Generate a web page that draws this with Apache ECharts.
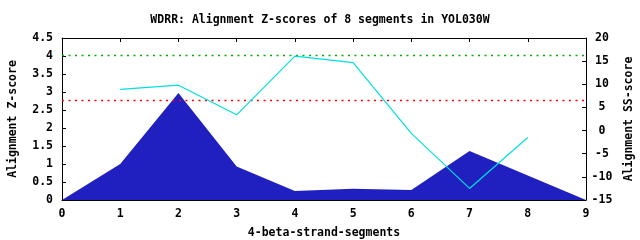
<!DOCTYPE html>
<html>
<head>
<meta charset="utf-8">
<script src="https://cdn.jsdelivr.net/npm/echarts@6/dist/echarts.min.js"></script>
<style>html,body{margin:0;padding:0;background:#fff;}#c{width:640px;height:240px;}</style>
</head>
<body>
<div id="c"></div>
<script>
const segments = [0, 1, 2, 3, 4, 5, 6, 7, 8, 9];
const zScores = [0, 1.0, 2.97, 0.93, 0.25, 0.31, 0.28, 1.36, 0.68, 0];
const ssSegments = [1, 2, 3, 4, 5, 6, 7, 8];
const ssScores = [8.9, 9.8, 3.4, 16.1, 14.7, -0.6, -12.5, -1.5];
const thresholdGreen = 4.014;
const thresholdRed = 2.764;
const xRange = [0, 9];
const titleText = 'WDRR: Alignment Z-scores of 8 segments in YOL030W';

const font = 'DejaVu Sans Mono';
const txt = {fontFamily: font, fontWeight: 'bold', fontSize: 11.5, color: '#000'};
const chart = echarts.init(document.getElementById('c'), null, {renderer: 'canvas'});
const axisLine = {show: true, onZero: false, lineStyle: {color: '#000', width: 1}};
const tick = {show: true, inside: true, length: 4, lineStyle: {color: '#000'}};

function thresholdSeries(v, color) {
  return {type: 'line', xAxisIndex: 0, yAxisIndex: 0, silent: true, z: 2,
    data: xRange.map(x => [x, v]), showSymbol: false,
    lineStyle: {color: color, type: [2, 4.5], width: 1.5}};
}

chart.setOption({
  animation: false,
  title: {text: titleText, left: 'center', top: 9, textStyle: Object.assign({}, txt)},
  grid: {left: 62, right: 54, top: 38, bottom: 40, containLabel: false, outerBoundsMode: 'none'},
  xAxis: [
    {type: 'value', min: 0, max: 9, interval: 1, position: 'bottom',
     name: '4-beta-strand-segments', nameLocation: 'middle', nameGap: 27,
     nameTextStyle: Object.assign({}, txt),
     axisLine: axisLine, axisTick: tick, splitLine: {show: false},
     axisLabel: Object.assign({margin: 8}, txt)},
    {type: 'value', min: 0, max: 9, interval: 1, position: 'top',
     axisLine: axisLine, axisTick: tick, splitLine: {show: false},
     axisLabel: {show: false}}
  ],
  yAxis: [
    {type: 'value', min: 0, max: 4.5, interval: 0.5, position: 'left',
     name: 'Alignment Z-score', nameLocation: 'middle', nameGap: 43, nameRotate: 90,
     nameTextStyle: Object.assign({}, txt),
     axisLine: axisLine, axisTick: tick, splitLine: {show: false},
     axisLabel: Object.assign({margin: 9}, txt)},
    {type: 'value', min: -15, max: 20, interval: 5, position: 'right',
     name: 'Alignment SS-score', nameLocation: 'middle', nameGap: 37, nameRotate: 90,
     nameTextStyle: Object.assign({}, txt),
     axisLine: axisLine, axisTick: tick, splitLine: {show: false},
     axisLabel: Object.assign({margin: 16, align: 'center'}, txt)}
  ],
  series: [
    {type: 'line', xAxisIndex: 0, yAxisIndex: 0,
     data: segments.map((s, i) => [s, zScores[i]]),
     showSymbol: false, lineStyle: {width: 0, color: '#2020c0'},
     areaStyle: {color: '#2020c0', opacity: 1},
     z: 1, silent: true},
    thresholdSeries(thresholdGreen, '#00b000'),
    thresholdSeries(thresholdRed, '#ff0000'),
    {type: 'line', xAxisIndex: 0, yAxisIndex: 1,
     data: ssSegments.map((s, i) => [s, ssScores[i]]),
     showSymbol: false, lineStyle: {width: 1.2, color: '#00e0e0'}, z: 3, silent: true}
  ]
});
</script>
</body>
</html>
